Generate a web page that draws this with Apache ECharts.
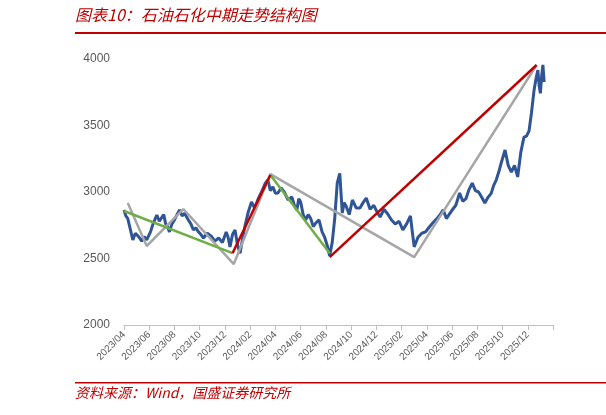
<!DOCTYPE html>
<html>
<head>
<meta charset="utf-8">
<script src="https://cdn.jsdelivr.net/npm/echarts@6/dist/echarts.min.js"></script>
<style>
  body { margin: 0; background: #fff; }
  #chart { width: 606px; height: 415px; }
</style>
</head>
<body>
<div id="chart"></div>
<script>
// x = months since 2023/04
const tickLabels = ['2023/04', '2023/06', '2023/08', '2023/10', '2023/12', '2024/02', '2024/04', '2024/06',
  '2024/08', '2024/10', '2024/12', '2025/02', '2025/04', '2025/06', '2025/08', '2025/10', '2025/12']

const indexLine = [
  [0, 2865], [0.15, 2820], [0.3, 2800], [0.5, 2720], [0.7, 2640], [0.9, 2690], [1.2, 2660], [1.4, 2630],
  [1.6, 2665], [1.8, 2640], [2.1, 2700], [2.3, 2760], [2.6, 2827], [2.8, 2780], [3.0, 2810], [3.15, 2830],
  [3.3, 2760], [3.45, 2740], [3.6, 2700], [3.8, 2760], [4.0, 2790], [4.2, 2830], [4.4, 2865], [4.6, 2820],
  [4.8, 2840], [5.1, 2790], [5.3, 2760], [5.5, 2715], [5.7, 2730], [5.9, 2700], [6.1, 2680], [6.3, 2654],
  [6.6, 2690], [6.9, 2670], [7.2, 2630], [7.5, 2654], [7.8, 2620], [8.1, 2700], [8.25, 2660], [8.4, 2587],
  [8.6, 2680], [8.8, 2715], [9.0, 2600], [9.2, 2540], [9.4, 2650], [9.6, 2750], [9.85, 2850], [10.1, 2925],
  [10.35, 2880], [10.6, 2940], [10.9, 3000], [11.2, 3067], [11.4, 3090], [11.6, 3010], [11.8, 3040],
  [12.0, 2990], [12.2, 2992], [12.45, 3030], [12.7, 3000], [13.0, 2940], [13.3, 2962], [13.5, 2900],
  [13.7, 2865], [13.85, 2950], [14.0, 2925], [14.2, 2830], [14.4, 2790], [14.6, 2830], [14.8, 2800],
  [15.0, 2740], [15.2, 2767], [15.45, 2790], [15.7, 2700], [15.9, 2660], [16.1, 2600], [16.3, 2520],
  [16.5, 2620], [16.7, 2800], [16.9, 3067], [17.1, 3140], [17.3, 2842], [17.45, 2920], [17.6, 2895],
  [17.85, 2830], [18.1, 2940], [18.4, 2880], [18.7, 2880], [18.95, 2920], [19.2, 2955], [19.5, 2870],
  [19.8, 2900], [20.05, 2850], [20.3, 2812], [20.6, 2870], [20.9, 2835], [21.2, 2790], [21.5, 2760],
  [21.8, 2780], [22.1, 2715], [22.4, 2760], [22.7, 2820], [22.85, 2700], [23.0, 2587], [23.3, 2660],
  [23.6, 2690], [23.9, 2700], [24.2, 2737], [24.5, 2770], [24.8, 2800], [25.05, 2830], [25.3, 2865],
  [25.55, 2800], [25.8, 2835], [26.05, 2870], [26.3, 2900], [26.6, 2992], [26.85, 2930], [27.1, 2950],
  [27.35, 3020], [27.6, 3067], [27.85, 3010], [28.1, 3000], [28.35, 2960], [28.6, 2917], [28.85, 2960],
  [29.1, 2990], [29.3, 3050], [29.5, 3090], [29.7, 3150], [29.9, 3220], [30.2, 3316], [30.45, 3200],
  [30.7, 3150], [30.95, 3200], [31.2, 3113], [31.45, 3300], [31.7, 3413], [31.9, 3420], [32.1, 3459],
  [32.3, 3600], [32.5, 3767], [32.65, 3850], [32.8, 3917], [32.9, 3800], [33.0, 3742], [33.1, 3870],
  [33.2, 3955], [33.3, 3827]
]
const grayTrend = [[0.3, 2917], [1.8, 2594], [4.7, 2872], [8.7, 2458], [11.6, 3135], [23.0, 2510], [32.7, 3955]]
const greenTrendA = [[0, 2857], [8.6, 2540]]
const greenTrendB = [[11.6, 3128], [16.3, 2540]]
const redTrendA = [[8.6, 2540], [11.6, 3128]]
const redTrendB = [[16.3, 2510], [32.7, 3955]]

const chart = echarts.init(document.getElementById('chart'))
const seg = (data, color, width, z) => ({
  type: 'line', data, showSymbol: false, symbol: 'none', z,
  lineStyle: { color, width }
})
chart.setOption({
  animation: false,
  graphic: [
    { type: 'text', left: 75, top: 7, style: { text: '图表10：石油石化中期走势结构图', fill: '#c00000',
      font: 'italic 16px "Noto Sans CJK SC"' } },
    { type: 'rect', shape: { x: 75, y: 32, width: 531, height: 2 }, style: { fill: '#c00000' } },
    { type: 'rect', shape: { x: 75, y: 382, width: 531, height: 1.5 }, style: { fill: '#c00000' } },
    { type: 'text', left: 75, top: 386, style: { text: '资料来源：Wind，国盛证券研究所', fill: '#c00000',
      font: 'italic 14px "Noto Sans CJK SC"' } }
  ],
  grid: { left: 124, right: 53, top: 59, bottom: 90 },
  xAxis: {
    type: 'value', min: 0, max: 34, interval: 2,
    splitLine: { show: false },
    axisLine: { lineStyle: { color: '#bfbfbf' } },
    axisTick: { show: true, lineStyle: { color: '#bfbfbf' } },
    axisLabel: { rotate: 45, color: '#595959', fontSize: 10,
      formatter: v => tickLabels[Math.round(v / 2)] || '' }
  },
  yAxis: {
    type: 'value', min: 2000, max: 4000, interval: 500,
    splitLine: { show: false },
    axisLine: { show: false }, axisTick: { show: false },
    axisLabel: { color: '#595959', fontSize: 12, margin: 14, formatter: v => String(v) }
  },
  series: [
    seg(indexLine, '#2f5597', 3, 1),
    seg(grayTrend, '#a6a6a6', 2.5, 2),
    seg(greenTrendA, '#70ad47', 2.5, 3),
    seg(greenTrendB, '#70ad47', 2.5, 3),
    seg(redTrendA, '#c00000', 2.5, 4),
    seg(redTrendB, '#c00000', 2.5, 4)
  ]
})
</script>
</body>
</html>
